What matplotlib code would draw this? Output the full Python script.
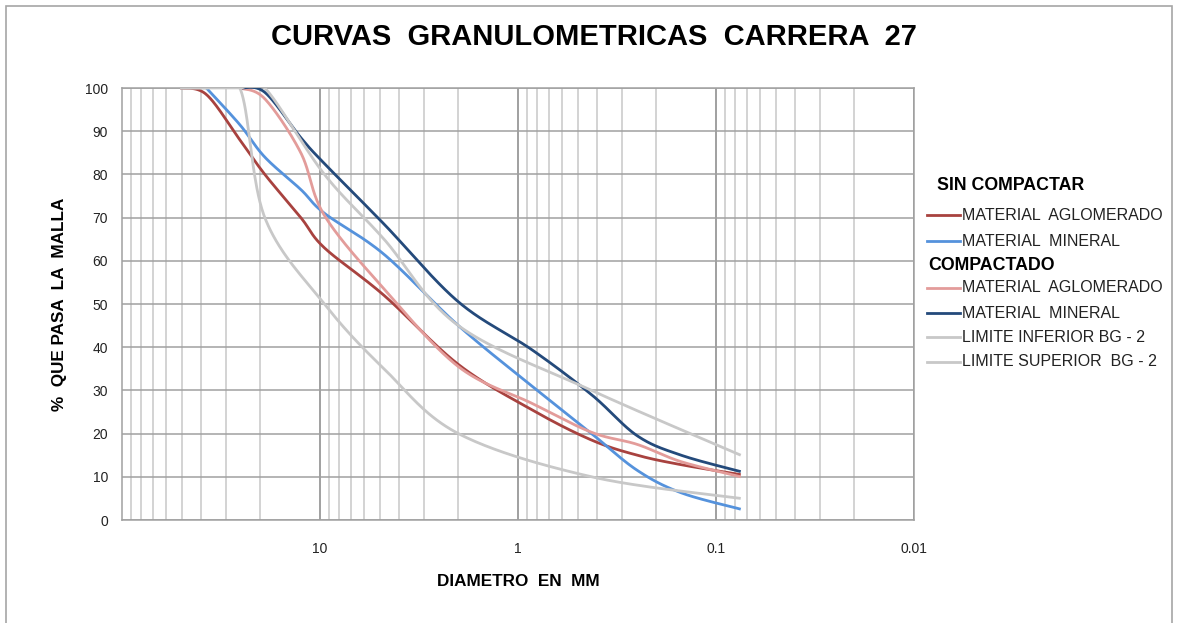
import numpy as np
import matplotlib
matplotlib.use("Agg")
import matplotlib.pyplot as plt
from matplotlib.lines import Line2D
from matplotlib.patches import Rectangle

plt.rcParams['font.family'] = ['Liberation Sans', 'DejaVu Sans']

# ---------------- data (diameter in mm, % passing) ----------------
sieves_all = [50.8, 37.5, 25.4, 19.0, 12.5, 9.5, 4.75, 2.0, 0.85, 0.425, 0.25, 0.15, 0.075]

sin_aglomerado = [100, 98.5, 88, 80, 70, 63, 52, 36, 25.5, 18.5, 15, 12.8, 10.5]

sieves_sin_mineral = [37.5, 25.4, 19.0, 12.5, 9.5, 4.75, 2.0, 0.85, 0.425, 0.25, 0.15, 0.075]
sin_mineral = [100, 91.5, 84, 76.5, 71, 61.5, 45, 31, 20, 11.5, 6.3, 2.5]

sieves_comp = [25.4, 19.0, 12.5, 9.5, 4.75, 2.0, 0.85, 0.425, 0.25, 0.15, 0.075]
comp_aglomerado = [100, 97.5, 85, 70.5, 53.5, 35.5, 27, 20.3, 17.5, 13.5, 10]
comp_mineral = [100, 99, 88.5, 82.5, 68.5, 50.5, 39.4, 29, 19.5, 15, 11.2]

sieves_lim = [50.8, 37.5, 25.4, 19.0, 9.5, 4.75, 2.0, 0.425, 0.075]
lim_inferior = [100, 100, 100, 70, 50, 35, 20, 10, 5]
lim_superior = [100, 100, 100, 100, 80, 65, 45, 30, 15]

x_ticks = [10, 1, 0.1, 0.01]
x_tick_labels = ["10", "1", "0.1", "0.01"]
y_ticks = list(range(0, 101, 10))

labels = ["MATERIAL  AGLOMERADO", "MATERIAL  MINERAL",
          "MATERIAL  AGLOMERADO", "MATERIAL  MINERAL",
          "LIMITE INFERIOR BG - 2", "LIMITE SUPERIOR  BG - 2"]
colors = ['#A8423F', '#5592DC', '#E39C9A', '#244A7B', '#C8C8C8', '#C8C8C8']


def smooth(xs, ys, n=40):
    """Excel-like smoothed line (Catmull-Rom Bezier) in log-x display space."""
    u = np.log10(np.asarray(xs, float)) * 197.5
    v = np.asarray(ys, float) * 4.32
    P = np.column_stack([u, v])
    m = len(P)
    out = []
    for i in range(m - 1):
        p0 = P[i - 1] if i > 0 else P[i]
        p1 = P[i]
        p2 = P[i + 1]
        p3 = P[i + 2] if i + 2 < m else P[i + 1]
        c1 = p1 + (p2 - p0) / 6.0
        c2 = p2 - (p3 - p1) / 6.0
        t = np.linspace(0, 1, n)[:, None]
        seg = ((1 - t) ** 3) * p1 + 3 * ((1 - t) ** 2) * t * c1 + 3 * (1 - t) * t ** 2 * c2 + t ** 3 * p2
        out.append(seg if i == 0 else seg[1:])
    S = np.vstack(out)
    return 10 ** (S[:, 0] / 197.5), S[:, 1] / 4.32


W, H = 1178, 623
fig = plt.figure(figsize=(W / 100, H / 100), dpi=100)

# chart border
fig.patches.append(Rectangle((6 / W, -0.1), (1172 - 6) / W, (H - 6) / H + 0.1,
                             transform=fig.transFigure, fill=False,
                             edgecolor='#A6A6A6', linewidth=1.2))

ax = fig.add_axes([122 / W, (H - 520) / H, (914 - 122) / W, (520 - 88) / H])
ax.set_xscale('log')
ax.set_xlim(100, 0.01)
ax.set_ylim(0, 100)

ax.set_xticks(x_ticks)
ax.set_xticklabels(x_tick_labels)
ax.set_yticks(y_ticks)
ax.set_yticklabels([str(t) for t in y_ticks])
ax.xaxis.set_minor_locator(matplotlib.ticker.LogLocator(base=10, subs=np.arange(2, 10)))
ax.xaxis.set_minor_formatter(matplotlib.ticker.NullFormatter())
ax.tick_params(axis='both', which='both', length=0)
ax.tick_params(axis='x', pad=16, labelsize=10, colors='#222222')
ax.tick_params(axis='y', pad=10, labelsize=10, colors='#222222')

ax.grid(which='major', axis='y', color='#A0A0A0', linewidth=1.1)
ax.grid(which='major', axis='x', color='#989898', linewidth=1.3)
ax.grid(which='minor', axis='x', color='#C8C8C8', linewidth=1.1)
ax.set_axisbelow(True)
for s in ax.spines.values():
    s.set_color('#A0A0A0')
    s.set_linewidth(1.1)

series = [
    (sieves_all, sin_aglomerado),
    (sieves_sin_mineral, sin_mineral),
    (sieves_comp, comp_aglomerado),
    (sieves_comp, comp_mineral),
    (sieves_lim, lim_inferior),
    (sieves_lim, lim_superior),
]
order = [4, 5, 0, 1, 2, 3]
for i in order:
    xs, ys = series[i]
    sx, sy = smooth(xs, ys)
    ax.plot(sx, sy, color=colors[i], linewidth=2.0, solid_capstyle='butt', zorder=3 + i)

ax.set_xlabel("DIAMETRO  EN  MM", fontsize=12.3, fontweight='bold', labelpad=13)
ax.set_ylabel("%  QUE PASA  LA  MALLA", fontsize=12.3, fontweight='bold', labelpad=13)

fig.text(594 / W, 1 - 37 / H, "CURVAS  GRANULOMETRICAS  CARRERA  27",
         ha='center', va='center', fontsize=21, fontweight='bold')

# legend (drawn manually, Excel style)
def fy(py):
    return 1 - py / H

fig.text(937 / W, fy(185), "SIN COMPACTAR", fontsize=12.8, fontweight='bold', va='center')
fig.text(928 / W, fy(265), "COMPACTADO", fontsize=12.8, fontweight='bold', va='center')
item_y = [215, 241, 288, 313, 337, 362]
for i, yy in enumerate(item_y):
    fig.add_artist(Line2D([927 / W, 960 / W], [fy(yy), fy(yy)], color=colors[i],
                          linewidth=2.0, transform=fig.transFigure))
    fig.text(962 / W, fy(yy), labels[i], fontsize=11.5, va='center', color='#222222')

fig.savefig("out.png", dpi=100)
